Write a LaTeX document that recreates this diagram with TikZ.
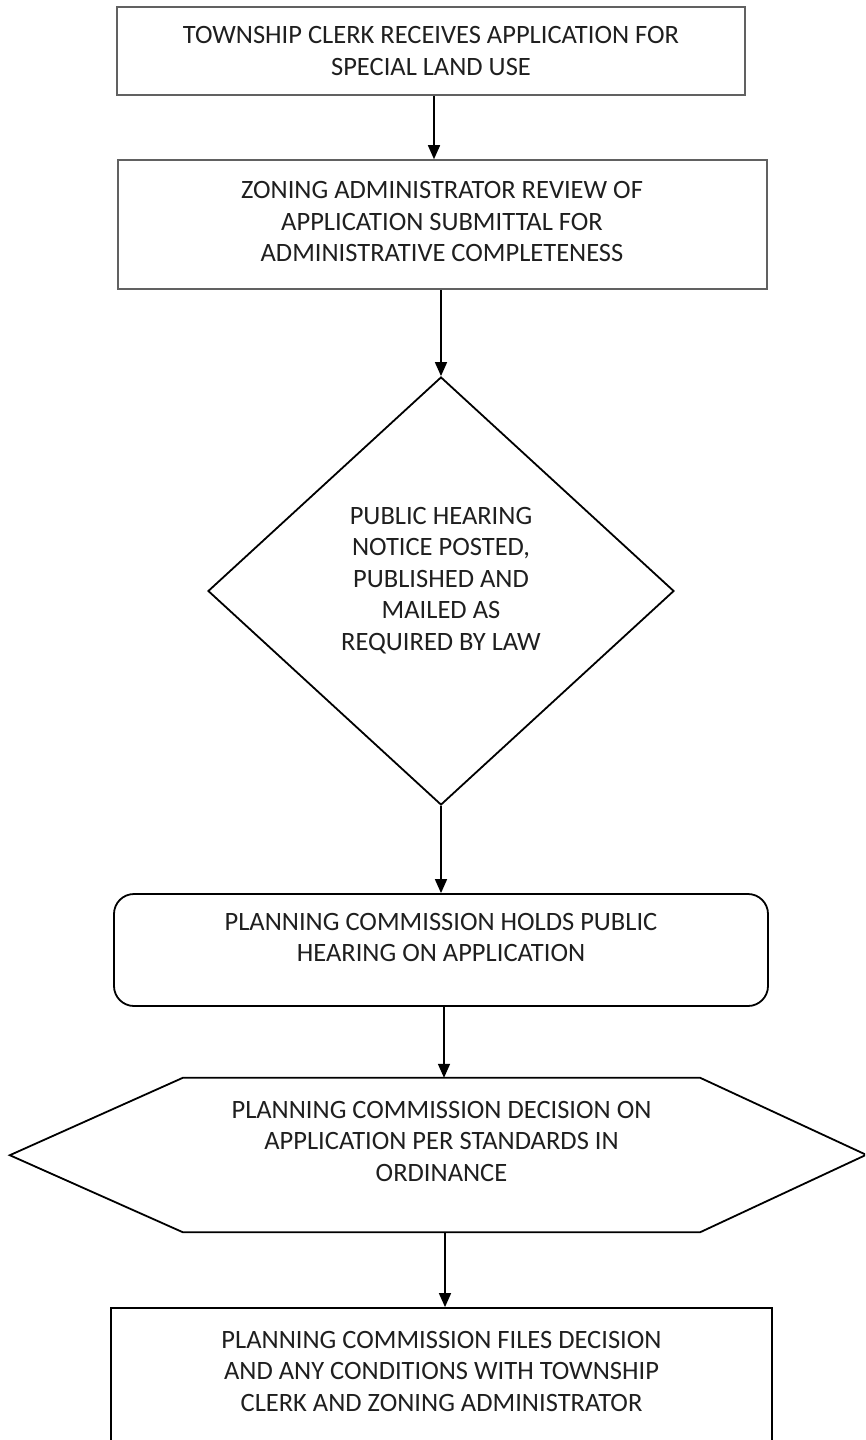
\documentclass[tikz,border=0pt]{standalone}
\usepackage{fontspec}
\setmainfont{Carlito}
\usetikzlibrary{arrows.meta,shapes.geometric,calc}
\begin{document}
\begin{tikzpicture}[x=1pt,y=-1pt,
  txt/.style={align=center,font=\fontsize{26.5}{31.5}\selectfont,text=black!88,inner sep=0pt},
  graybox/.style={draw=black!62,line width=1.6pt,rectangle,inner sep=0pt},
  blackbox/.style={draw=black,line width=1.8pt,inner sep=0pt},
  arr/.style={line width=1.6pt,-{Triangle[length=14pt,width=12pt]}}]
\useasboundingbox (0,0) rectangle (865,1440);
\clip (0,0) rectangle (865,1440);
% box 1
\node[graybox,minimum width=628.5pt,minimum height=88pt] (b1) at (431,51) {};
\node[txt] (t1) at (431,51) {TOWNSHIP CLERK RECEIVES APPLICATION FOR\\SPECIAL LAND USE};
% box 2
\node[graybox,minimum width=649pt,minimum height=129pt] (b2) at (442.5,224.5) {};
\node[txt] (t2) at (442,221.5) {ZONING ADMINISTRATOR REVIEW OF\\APPLICATION SUBMITTAL FOR\\ADMINISTRATIVE COMPLETENESS};
% diamond
\node[diamond,blackbox,minimum width=466pt,minimum height=428pt] (d) at (441,591) {};
\node[txt] (t3) at (441,580.5) {PUBLIC HEARING\\NOTICE POSTED,\\PUBLISHED AND\\MAILED AS\\REQUIRED BY LAW};
% rounded box
\node[blackbox,rounded corners=20pt,minimum width=654pt,minimum height=112pt] (r) at (441,950) {};
\node[txt] (t4) at (441,937.5) {PLANNING COMMISSION HOLDS PUBLIC\\HEARING ON APPLICATION};
% hexagon
\node[inner sep=0pt,minimum width=517pt,minimum height=154pt] (h) at (441.5,1155) {};
\draw[line width=1.8pt] (h.north west) -- (h.north east) -- ++(166,77) -- (h.south east) -- (h.south west) -- ++(-173,-77) -- cycle;
\node[txt] (t5) at (441.5,1141) {PLANNING COMMISSION DECISION ON\\APPLICATION PER STANDARDS IN\\ORDINANCE};
% last box
\node[blackbox,minimum width=661pt,minimum height=150pt] (b6) at (441.5,1383) {};
\node[txt] (t6) at (441.5,1371) {PLANNING COMMISSION FILES DECISION\\AND ANY CONDITIONS WITH TOWNSHIP\\CLERK AND ZONING ADMINISTRATOR};
% arrows
\draw[arr] ([xshift=3pt]b1.south) -- ([xshift=3pt]b1.south |- b2.north);
\draw[arr] (b2.south -| d.north) -- (d.north);
\draw[arr] (d.south) -- (d.south |- r.north);
\draw[arr] ([xshift=3pt]r.south) -- ([xshift=3pt]r.south |- h.north);
\draw[arr] ([xshift=3.5pt]h.south) -- ([xshift=3.5pt]h.south |- b6.north);
\end{tikzpicture}
\end{document}
